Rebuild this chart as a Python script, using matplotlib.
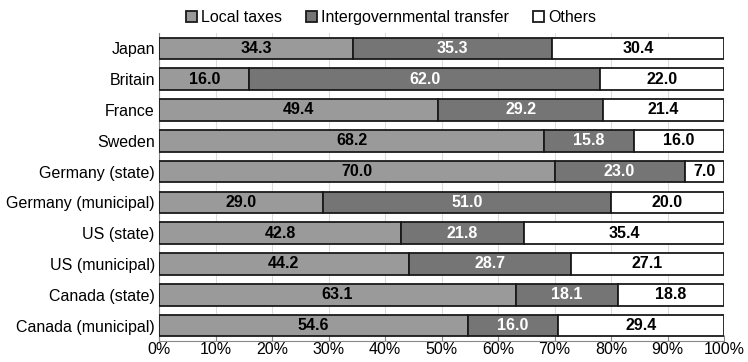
import matplotlib
matplotlib.use('Agg')
import matplotlib.pyplot as plt
import numpy as np

plt.rcParams['font.family'] = ['Liberation Sans', 'DejaVu Sans']

countries = ["Japan", "Britain", "France", "Sweden", "Germany (state)",
             "Germany (municipal)", "US (state)", "US (municipal)",
             "Canada (state)", "Canada (municipal)"]
local_taxes = [34.3, 16.0, 49.4, 68.2, 70.0, 29.0, 42.8, 44.2, 63.1, 54.6]
transfers = [35.3, 62.0, 29.2, 15.8, 23.0, 51.0, 21.8, 28.7, 18.1, 16.0]
others = [30.4, 22.0, 21.4, 16.0, 7.0, 20.0, 35.4, 27.1, 18.8, 29.4]

series = [("Local taxes", local_taxes, "#9a9a9a", "black"),
          ("Intergovernmental transfer", transfers, "#757575", "white"),
          ("Others", others, "white", "black")]

fig = plt.figure(figsize=(7.48, 3.62), dpi=100)
ax = fig.add_axes([0.2126, 0.058, 0.7554, 0.851])

y = np.arange(len(countries))
left = np.zeros(len(countries))
for name, vals, col, tcol in series:
    vals = np.array(vals)
    ax.barh(y, vals, left=left, height=0.7, color=col,
            edgecolor="#1a1a1a", linewidth=1.3, label=name, zorder=3)
    for yi, l, v in zip(y, left, vals):
        ax.text(l + v / 2, yi, f"{v:.1f}", ha="center", va="center",
                color=tcol, fontsize=11.5, fontweight="bold", zorder=4)
    left += vals

ax.set_xlim(0, 100)
ax.set_ylim(len(countries) - 0.5, -0.5)
ax.set_yticks(y)
ax.set_yticklabels(countries, fontsize=11.5)
ax.set_xticks(np.arange(0, 101, 10))
ax.set_xticklabels([f"{t}%" for t in range(0, 101, 10)], fontsize=11.5)
ax.tick_params(axis="y", length=0, pad=3)
ax.tick_params(axis="x", direction="in", length=4, color="#888888", pad=1)
ax.grid(axis="x", color="#dddddd", linewidth=0.8, zorder=0)
for s in ["top", "right"]:
    ax.spines[s].set_visible(False)
ax.spines["left"].set_color("#888888")
ax.spines["bottom"].set_color("#888888")

ax.legend(loc="lower center", bbox_to_anchor=(0.41, 1.0), ncol=3, frameon=False,
          fontsize=11.5, handlelength=0.7, handleheight=0.7, handletextpad=0.25,
          columnspacing=1.5, borderaxespad=0.1)

fig.savefig("out.png", dpi=100)
